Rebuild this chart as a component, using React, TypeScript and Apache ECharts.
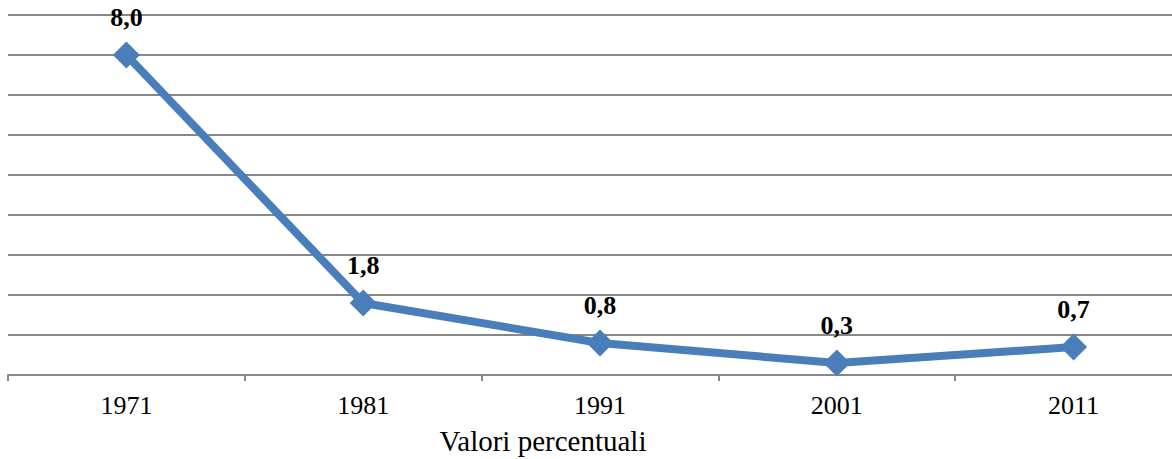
import React, { useEffect, useRef } from "react";
import * as echarts from "echarts";

const categories = ["1971", "1981", "1991", "2001", "2011"];
const values = [8.0, 1.8, 0.8, 0.3, 0.7];
const axisTitle = "Valori percentuali";

const FONT = "Liberation Serif";

export default function App() {
  const ref = useRef<HTMLDivElement>(null);
  useEffect(() => {
    if (!ref.current) return;
    const chart = echarts.init(ref.current, undefined, { renderer: "svg" });
    chart.setOption({
      animation: false,
      backgroundColor: "#ffffff",
      grid: { left: 8, top: 15, width: 1184, height: 360, containLabel: false },
      xAxis: {
        type: "category",
        data: categories,
        boundaryGap: true,
        axisLine: { lineStyle: { color: "#878787", width: 2 } },
        axisTick: { show: true, length: 6, lineStyle: { color: "#878787", width: 2 } },
        axisLabel: { color: "#000", fontFamily: FONT, fontSize: 26, margin: 17 },
      },
      yAxis: {
        type: "value",
        min: 0,
        max: 9,
        interval: 1,
        axisLine: { show: false },
        axisTick: { show: false },
        axisLabel: { show: false },
        splitLine: { lineStyle: { color: "#878787", width: 2 } },
      },
      graphic: [
        {
          type: "text",
          x: 543,
          y: 441,
          style: {
            text: axisTitle,
            fill: "#000",
            fontFamily: FONT,
            fontSize: 29,
            textAlign: "center",
            textVerticalAlign: "middle",
          },
        },
      ],
      series: [
        {
          type: "line",
          data: values,
          symbol: "diamond",
          symbolSize: 27,
          lineStyle: { color: "#4a7ebb", width: 8 },
          itemStyle: { color: "#4a7ebb" },
          label: {
            show: true,
            position: "top",
            distance: 11,
            color: "#000",
            fontWeight: "bold",
            fontFamily: FONT,
            fontSize: 26,
            formatter: (p: any) => p.value.toFixed(1).replace(".", ","),
          },
        },
      ],
    });
    return () => chart.dispose();
  }, []);
  return (
    <div style={{ position: "fixed", left: 0, top: 0, width: 1172, height: 459, overflow: "hidden", background: "#fff" }}>
      <div ref={ref} style={{ width: 1200, height: 459 }} />
    </div>
  );
}
